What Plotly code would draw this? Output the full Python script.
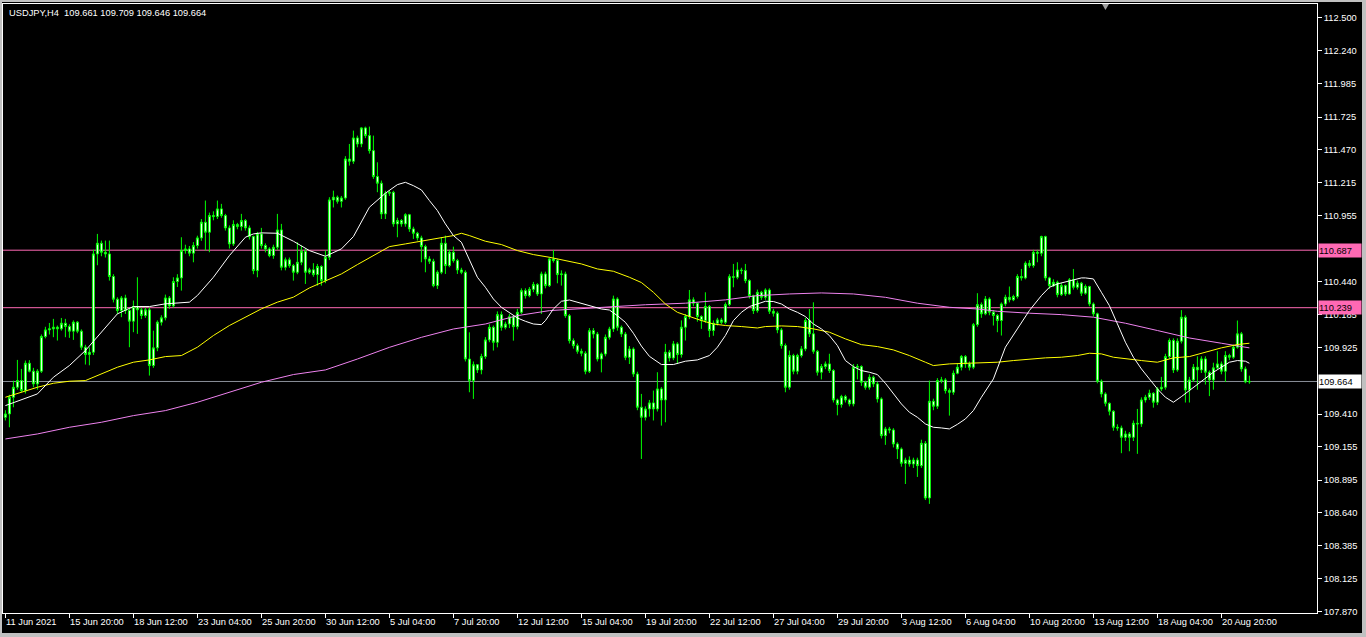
import plotly.graph_objects as go

# ---------------- data ----------------
first_open = 109.385
closes = [
109.411,109.541,109.619,109.671,109.593,109.806,109.744,109.645,109.744,110.014,
110.066,110.074,110.087,110.074,110.118,110.092,110.056,110.126,110.056,109.931,
109.874,109.892,110.658,110.741,110.671,110.658,110.482,110.305,110.217,110.315,
110.217,110.134,110.248,110.222,110.178,110.222,109.788,109.926,110.126,110.160,
110.315,110.253,110.443,110.471,110.684,110.697,110.664,110.723,110.783,110.905,
110.827,110.957,110.949,111.009,110.957,110.861,110.736,110.887,110.871,110.918,
110.861,110.793,110.528,110.814,110.723,110.697,110.645,110.710,110.845,110.554,
110.612,110.567,110.515,110.593,110.679,110.515,110.534,110.497,110.560,110.450,
110.632,111.079,111.100,111.068,111.094,111.398,111.380,111.562,111.515,111.640,
111.580,111.463,111.261,111.209,110.970,111.131,111.138,110.892,110.918,110.892,
110.964,110.853,110.819,110.783,110.715,110.619,110.601,110.411,110.515,110.741,
110.567,110.671,110.606,110.533,110.515,109.839,109.671,109.795,109.754,109.858,
109.988,110.086,109.969,110.185,110.086,110.112,110.169,110.091,110.203,110.372,
110.333,110.382,110.419,110.346,110.502,110.411,110.619,110.606,110.497,110.502,
110.177,109.982,109.943,109.899,109.884,109.743,110.060,110.034,109.839,109.878,
110.008,110.073,110.307,110.086,110.034,109.852,109.917,109.722,109.463,109.385,
109.450,109.497,109.450,109.606,109.520,109.892,109.847,109.957,109.874,110.087,
110.170,110.300,110.274,110.170,110.139,110.248,110.061,110.118,110.144,110.125,
110.263,110.481,110.476,110.533,110.528,110.450,110.333,110.216,110.359,110.320,
110.377,110.211,110.196,110.066,109.944,109.619,109.866,109.744,109.866,109.918,
110.139,110.035,109.899,109.736,109.780,109.801,109.749,109.520,109.484,109.546,
109.520,109.489,109.775,109.780,109.658,109.619,109.697,109.645,109.528,109.242,
109.294,109.286,109.177,109.138,109.026,109.052,109.021,109.052,109.008,109.182,
108.756,109.510,109.471,109.671,109.676,109.593,109.580,109.728,109.775,109.858,
109.801,109.775,110.107,110.263,110.191,110.307,110.204,110.178,110.139,110.268,
110.320,110.300,110.326,110.482,110.471,110.585,110.567,110.671,110.663,110.793,
110.471,110.411,110.437,110.341,110.411,110.346,110.456,110.398,110.430,110.352,
110.404,110.268,110.191,109.666,109.567,109.494,109.432,109.307,109.302,109.229,
109.255,109.229,109.338,109.333,109.520,109.541,109.572,109.502,109.606,109.619,
109.858,109.983,109.754,109.978,110.165,109.598,109.676,109.775,109.754,109.840,
109.736,109.676,109.770,109.801,109.744,109.866,109.853,109.931,110.035,109.762,
109.661,109.664]
highs = [
109.44,109.56,109.67,109.832,109.762,109.827,109.83,109.77,109.76,110.03,
110.09,110.12,110.152,110.10,110.159,110.152,110.11,110.14,110.135,110.07,
109.95,109.93,110.69,110.814,110.762,110.762,110.762,110.50,110.32,110.33,
110.34,110.23,110.295,110.476,110.24,110.24,110.24,110.06,110.14,110.18,
110.341,110.33,110.476,110.50,110.788,110.73,110.72,110.75,110.80,110.93,
111.074,110.98,110.99,111.074,111.048,110.97,110.88,110.92,110.90,110.97,
110.93,110.88,110.80,110.83,110.861,110.74,110.71,110.73,110.970,110.892,
110.63,110.63,110.58,110.749,110.723,110.70,110.55,110.586,110.58,110.57,
110.684,111.10,111.151,111.113,111.11,111.42,111.515,111.619,111.58,111.645,
111.65,111.65,111.58,111.372,111.23,111.15,111.151,111.15,110.94,110.93,
110.975,110.97,110.87,110.83,110.80,110.73,110.64,110.62,110.53,110.788,
110.801,110.69,110.715,110.62,110.55,110.53,110.047,109.82,109.80,109.88,
110.01,110.11,110.10,110.21,110.21,110.13,110.19,110.18,110.23,110.39,
110.39,110.40,110.44,110.43,110.52,110.52,110.632,110.689,110.62,110.53,
110.52,110.19,110.00,109.96,109.92,109.90,110.08,110.08,110.05,109.89,
110.03,110.09,110.333,110.32,110.10,110.05,109.94,109.93,109.74,109.567,
109.47,109.52,109.593,109.736,109.62,109.957,109.91,109.98,109.97,110.14,
110.19,110.377,110.32,110.28,110.18,110.359,110.26,110.14,110.16,110.16,
110.28,110.50,110.580,110.593,110.55,110.580,110.46,110.34,110.38,110.37,
110.39,110.39,110.23,110.21,110.08,109.96,109.905,109.88,109.88,109.94,
110.16,110.229,110.281,109.91,109.80,109.82,109.88,109.76,109.53,109.56,
109.56,109.53,109.80,109.80,109.79,109.67,109.72,109.71,109.66,109.54,
109.31,109.31,109.30,109.19,109.15,109.07,109.08,109.07,109.07,109.21,
109.20,109.671,109.53,109.69,109.70,109.69,109.61,109.75,109.80,109.87,
109.87,109.82,110.12,110.352,110.28,110.33,110.32,110.22,110.19,110.28,
110.34,110.404,110.34,110.50,110.541,110.60,110.61,110.69,110.69,110.80,
110.80,110.48,110.46,110.45,110.43,110.42,110.47,110.541,110.45,110.44,
110.42,110.41,110.28,110.20,109.68,109.58,109.50,109.44,109.33,109.32,
109.28,109.27,109.36,109.45,109.54,109.56,109.60,109.58,109.62,109.70,
109.88,110.00,110.00,110.00,110.22,110.18,109.70,109.80,109.86,109.86,
109.86,109.75,109.81,109.90,109.82,109.90,109.88,109.95,110.139,110.05,
109.78,109.709]
lows = [
109.36,109.307,109.463,109.60,109.58,109.57,109.735,109.619,109.60,109.73,
110.00,110.03,110.009,109.983,110.06,110.009,110.004,109.988,110.04,109.91,
109.796,109.79,109.87,110.57,110.64,110.63,110.45,110.28,110.19,110.165,
110.19,109.931,110.048,110.035,110.15,110.16,109.710,109.77,109.90,110.10,
110.14,110.23,110.24,110.40,110.372,110.66,110.64,110.593,110.70,110.76,
110.684,110.671,110.92,110.93,110.94,110.84,110.70,110.72,110.85,110.84,
110.84,110.77,110.50,110.476,110.70,110.67,110.632,110.62,110.69,110.53,
110.53,110.55,110.450,110.50,110.57,110.424,110.50,110.48,110.411,110.411,
110.43,110.61,111.02,111.05,111.02,111.08,111.346,111.36,111.489,111.49,
111.56,111.44,111.243,111.139,110.93,110.93,111.11,110.87,110.788,110.87,
110.87,110.83,110.775,110.762,110.593,110.515,110.58,110.398,110.385,110.50,
110.502,110.554,110.59,110.502,110.50,109.82,109.580,109.528,109.73,109.72,
109.84,109.97,109.905,109.93,110.06,110.07,110.08,109.982,110.07,110.19,
110.31,110.32,110.36,110.33,110.190,110.39,110.40,110.59,110.429,110.411,
110.16,109.96,109.92,109.88,109.86,109.72,109.73,110.00,109.82,109.735,
109.86,109.99,110.05,110.06,110.01,109.83,109.80,109.70,109.44,109.060,
109.36,109.39,109.36,109.43,109.32,109.346,109.82,109.83,109.80,109.85,
109.983,110.15,110.25,110.13,110.074,110.12,110.009,110.02,110.10,110.11,
110.11,110.25,110.398,110.46,110.50,110.43,110.31,110.19,110.20,110.30,
110.30,110.19,110.17,110.04,109.92,109.58,109.60,109.72,109.72,109.85,
109.90,110.01,109.88,109.71,109.68,109.76,109.73,109.50,109.40,109.46,
109.50,109.47,109.47,109.68,109.63,109.60,109.60,109.62,109.50,109.22,
109.17,109.26,109.15,109.06,109.00,108.865,109.00,108.99,108.92,108.99,
108.74,108.710,109.44,109.45,109.65,109.57,109.398,109.56,109.72,109.75,
109.77,109.75,109.76,110.09,110.16,110.18,110.18,110.100,110.048,110.022,
110.25,110.28,110.29,110.31,110.45,110.46,110.55,110.55,110.593,110.64,
110.45,110.385,110.40,110.32,110.33,110.33,110.34,110.38,110.38,110.33,
110.34,110.25,110.17,109.65,109.54,109.47,109.40,109.28,109.28,109.105,
109.20,109.12,109.20,109.10,109.31,109.50,109.52,109.46,109.48,109.59,
109.60,109.84,109.73,109.74,109.96,109.50,109.50,109.66,109.60,109.73,
109.64,109.55,109.60,109.76,109.72,109.66,109.83,109.84,109.92,109.74,
109.65,109.646]

white_x = [0,4,8,12,16,20,24,28,32,36,40,44,46,48,52,56,60,62,64,68,72,76,80,84,87,91,95,98,100,102,
           104,106,108,110,112,114,116,118,120,122,124,126,128,130,132,134,135,137,139,141,143,145,147,149,151,
           153,155,157,159,161,164,167,170,173,176,178,180,182,184,186,188,190,192,194,196,198,200,202,204,206,
           208,210,212,214,216,218,220,222,224,226,228,230,232,234,236,238,240,242,244,247,250,253,256,259,261,
           263,266,269,270,272,274,276,278,280,282,284,286,288,290,292,294,296,298,300,302,304,306,308,310,311]
white_y = [109.476,109.520,109.567,109.697,109.788,109.905,110.048,110.191,110.248,110.248,110.269,110.274,110.282,110.334,110.476,
           110.645,110.788,110.814,110.822,110.819,110.757,110.684,110.640,110.697,110.793,111.022,111.131,111.198,111.216,111.190,
           111.157,111.074,110.996,110.892,110.801,110.749,110.606,110.476,110.398,110.307,110.242,110.203,110.159,110.133,110.112,
           110.107,110.138,110.229,110.289,110.299,110.281,110.260,110.242,110.229,110.221,110.177,110.125,110.040,109.940,109.860,
           109.796,109.796,109.822,109.832,109.866,109.931,110.022,110.138,110.203,110.248,110.268,110.289,110.287,110.268,110.229,
           110.203,110.170,110.112,110.074,110.022,109.944,109.827,109.780,109.749,109.736,109.718,109.650,109.567,109.489,109.424,
           109.385,109.333,109.307,109.302,109.294,109.330,109.372,109.437,109.541,109.684,109.931,110.074,110.217,110.333,110.398,
           110.424,110.450,110.471,110.471,110.463,110.359,110.255,110.113,109.970,109.853,109.762,109.684,109.606,109.541,109.502,
           109.546,109.593,109.640,109.684,109.736,109.775,109.814,109.827,109.822,109.806]

yellow_x = [0,8,12,16,20,22,24,28,32,36,40,44,48,52,56,60,64,68,72,76,80,84,88,92,96,100,104,108,112,114,
            116,120,124,128,132,136,140,144,148,152,156,159,162,165,168,171,174,177,180,184,188,190,194,198,202,
            206,210,214,218,222,226,230,232,236,240,244,248,252,256,260,264,268,271,274,277,280,284,288,292,296,
            300,304,308,311]
yellow_y = [109.541,109.619,109.650,109.666,109.671,109.697,109.728,109.775,109.814,109.832,109.858,109.866,109.931,110.022,110.100,
            110.165,110.230,110.282,110.321,110.393,110.448,110.502,110.575,110.645,110.715,110.736,110.757,110.783,110.801,110.819,
            110.801,110.757,110.731,110.684,110.653,110.632,110.606,110.580,110.541,110.523,110.476,110.435,110.359,110.268,110.203,
            110.170,110.139,110.112,110.100,110.092,110.081,110.092,110.097,110.092,110.074,110.048,109.996,109.951,109.936,109.910,
            109.866,109.814,109.788,109.801,109.806,109.814,109.814,109.827,109.840,109.848,109.853,109.866,109.884,109.879,109.853,
            109.840,109.827,109.814,109.848,109.858,109.892,109.926,109.952,109.962]

violet_x = [0,8,16,24,32,40,48,56,64,72,80,88,96,104,112,120,128,136,144,152,160,170,180,188,196,204,212,220,228,236,
            243,248,256,264,272,280,288,296,304,308,311]
violet_y = [109.216,109.255,109.307,109.346,109.398,109.437,109.502,109.580,109.658,109.718,109.754,109.839,109.930,110.008,110.073,
            110.112,110.177,110.216,110.229,110.247,110.262,110.274,110.300,110.333,110.346,110.354,110.346,110.320,110.274,110.242,
            110.229,110.211,110.196,110.185,110.165,110.118,110.061,110.003,109.962,109.944,109.926]

date_idx = [0,16,32,48,64,80,96,112,128,144,160,176,192,208,224,240,256,272,288,304]
date_labels = ["11 Jun 2021","15 Jun 20:00","18 Jun 12:00","23 Jun 04:00","25 Jun 20:00","30 Jun 12:00",
               "5 Jul 04:00","7 Jul 20:00","12 Jul 12:00","15 Jul 04:00","19 Jul 20:00","22 Jul 12:00",
               "27 Jul 04:00","29 Jul 20:00","3 Aug 12:00","6 Aug 04:00","10 Aug 20:00","13 Aug 12:00",
               "18 Aug 04:00","20 Aug 20:00"]
price_ticks = [112.500,112.240,111.985,111.725,111.470,111.215,110.955,110.440,110.185,109.925,
               109.410,109.155,108.895,108.640,108.385,108.125,107.870]
levels = [110.687, 110.239, 109.664]
level_line_colors = ["#FF69B4", "#FF69B4", "#8A8F99"]
level_box_colors = ["#FF69B4", "#FF69B4", "#FFFFFF"]
header = "USDJPY,H4  109.661 109.709 109.646 109.664"

# ---------------- figure ----------------
FONT = "Liberation Sans, Arial, sans-serif"
FS = 9.3
idx = list(range(len(closes)))
opens = [first_open] + closes[:-1]

fig = go.Figure()
fig.add_trace(go.Candlestick(
    x=idx, open=opens, high=highs, low=lows, close=closes,
    increasing=dict(line=dict(color="#00FF00", width=1), fillcolor="#FFFFFF"),
    decreasing=dict(line=dict(color="#00FF00", width=1), fillcolor="#FFFFFF"),
    whiskerwidth=0, showlegend=False, hoverinfo="skip"))
fig.add_trace(go.Scatter(x=violet_x, y=violet_y, mode="lines",
                         line=dict(color="#EE82EE", width=1), showlegend=False, hoverinfo="skip"))
fig.add_trace(go.Scatter(x=yellow_x, y=yellow_y, mode="lines",
                         line=dict(color="#FFFF00", width=1), showlegend=False, hoverinfo="skip"))
fig.add_trace(go.Scatter(x=white_x, y=white_y, mode="lines",
                         line=dict(color="#FFFFFF", width=1), showlegend=False, hoverinfo="skip"))

shapes = []
annotations = []
for lv, lc, bc in zip(levels, level_line_colors, level_box_colors):
    shapes.append(dict(type="line", xref="paper", x0=0, x1=1, yref="y", y0=lv, y1=lv,
                       line=dict(color=lc, width=1), layer="below"))
    annotations.append(dict(xref="paper", x=1, xanchor="left", xshift=1, yref="y", y=lv,
                            yanchor="middle", text=f"{lv:.3f}", showarrow=False,
                            bgcolor=bc, borderpad=0, width=42, height=13, align="left",
                            font=dict(family=FONT, size=FS, color="#000000")))

for i, t in zip(date_idx, date_labels):
    annotations.append(dict(xref="x", x=i, xanchor="left", xshift=-1, yref="paper", y=0,
                            yanchor="top", yshift=-2, text=t, showarrow=False,
                            font=dict(family=FONT, size=FS, color="#FFFFFF")))

annotations.append(dict(xref="paper", x=0, xanchor="left", xshift=4, yref="paper", y=1,
                        yanchor="top", yshift=-2, text=header, showarrow=False,
                        font=dict(family=FONT, size=FS, color="#FFFFFF")))

# chart-shift marker at top
shapes.append(dict(type="path", xref="paper", yref="paper",
                   path="M 0.8364 1.0 L 0.8417 1.0 L 0.8390 0.9902 Z",
                   fillcolor="#A0A0A0", line=dict(width=0)))

fig.update_layout(
    width=1360, height=631,
    paper_bgcolor="#000000", plot_bgcolor="#000000",
    margin=dict(l=1, r=45, t=2, b=20),
    shapes=shapes, annotations=annotations,
    xaxis=dict(range=[-0.6, 327.9], rangeslider=dict(visible=False),
               showgrid=False, zeroline=False, showline=True, linecolor="#FFFFFF", linewidth=1,
               mirror=True, ticks="outside", ticklen=4, tickcolor="#FFFFFF",
               tickvals=date_idx, showticklabels=False, fixedrange=True),
    yaxis=dict(range=[107.8597, 112.6057], side="right",
               showgrid=False, zeroline=False, showline=True, linecolor="#FFFFFF", linewidth=1,
               mirror=True, ticks="outside", ticklen=4, tickcolor="#FFFFFF",
               tickvals=price_ticks, ticktext=[f"{v:.3f}" for v in price_ticks],
               tickfont=dict(family=FONT, size=FS, color="#FFFFFF"), fixedrange=True),
)

# window frame around the chart: light gray page behind a figure inset by 2 px
fig.write_html("out.html", config={"displayModeBar": False},
               post_script=("document.body.style.margin='0px';"
                            "document.body.style.padding='2px 0 0 2px';"
                            "document.body.style.background='#C0C0C0';"
                            "document.body.style.overflow='hidden';"))
